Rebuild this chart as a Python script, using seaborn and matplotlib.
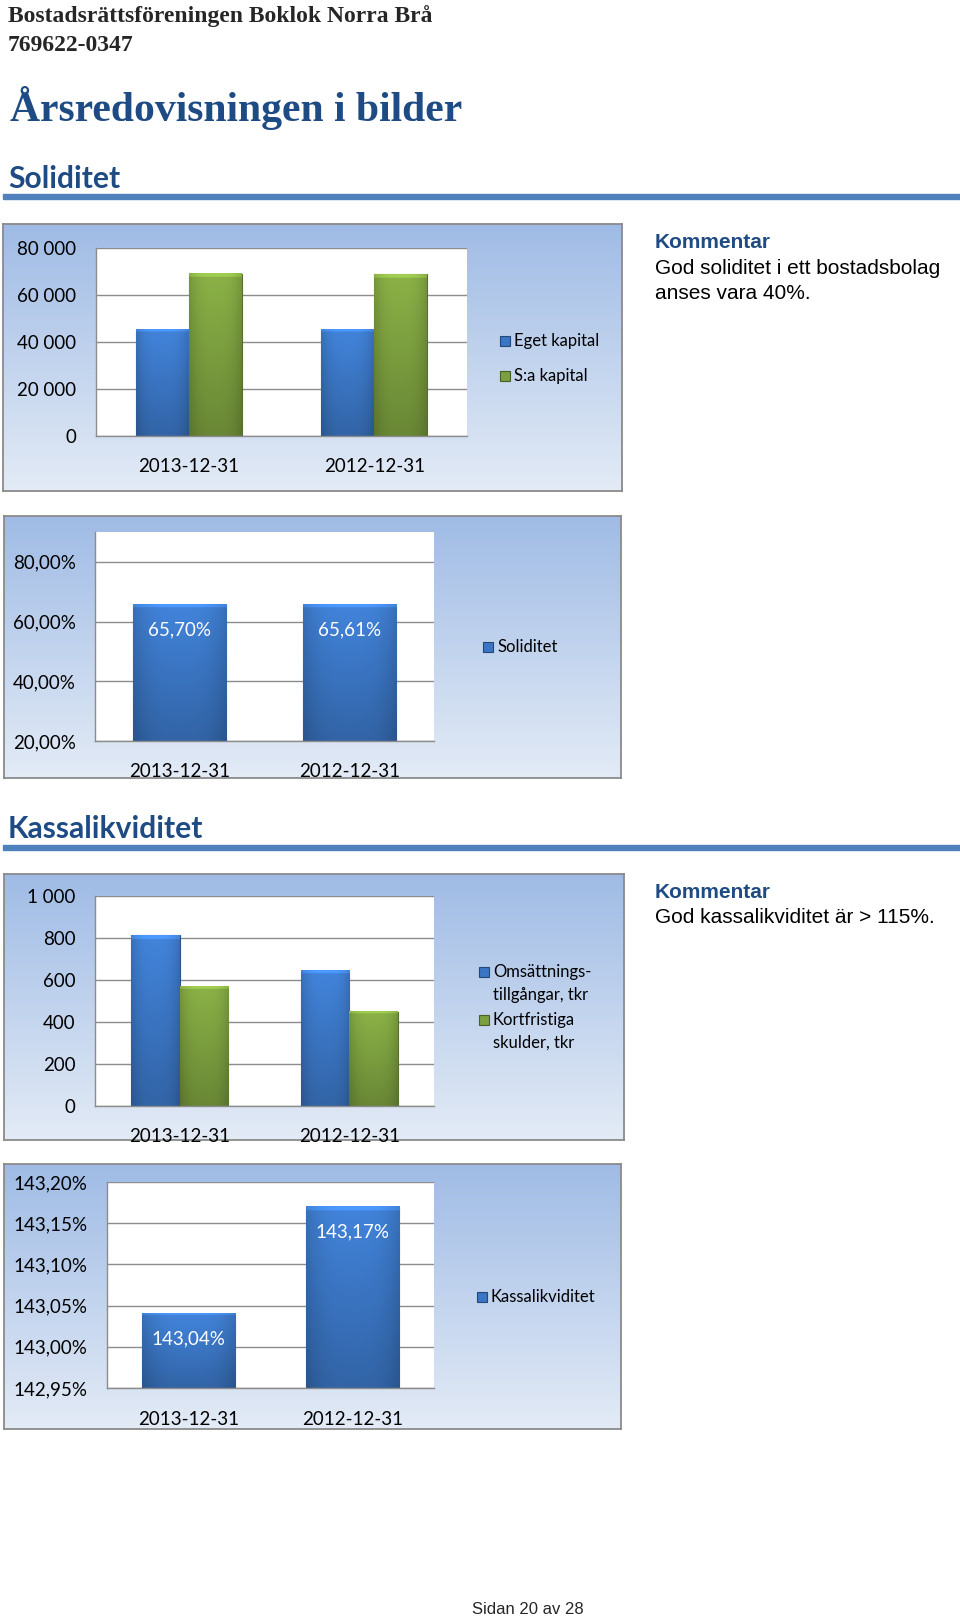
import numpy as np
import pandas as pd
import matplotlib
matplotlib.use("Agg")
import matplotlib.pyplot as plt
from matplotlib.colors import to_rgb
from matplotlib.patches import Rectangle
import seaborn as sns

sns.set_theme(style="white")
plt.rcParams['font.family'] = ['Lato', 'DejaVu Sans']

W, H = 960, 1619

# data
dates = ["2013-12-31", "2012-12-31"]
eget_kapital = [45300, 45150]
sa_kapital = [68950, 68820]
soliditet = [65.70, 65.61]
omsattning = [812, 644]
kortfristiga = [567, 450]
kassalikviditet = [143.04, 143.17]

BLUE = "#3b76c4"
GREEN = "#7c9f3f"
HEAD = "#1f4b84"
GRID = "#8c8c8c"

fig = plt.figure(figsize=(W / 100, H / 100), dpi=100)


def rect(x0, y0, x1, y1):
    return [x0 / W, 1 - y1 / H, (x1 - x0) / W, (y1 - y0) / H]


def fx(x):
    return x / W


def fy(y):
    return 1 - y / H


def panel(x0, y0, x1, y1):
    bg = fig.add_axes(rect(x0, y0, x1, y1), zorder=0)
    grad = np.linspace(0, 1, 256)[:, None, None]
    top = np.array(to_rgb("#9fbbe5"))
    bot = np.array(to_rgb("#e3ebf6"))
    bg.imshow(top + (bot - top) * grad, aspect='auto', extent=[0, 1, 0, 1])
    bg.set_xticks([])
    bg.set_yticks([])
    for s in bg.spines.values():
        s.set_color("#8a8a8a")
        s.set_linewidth(1.3)


def shade_bars(ax):
    xlim, ylim = ax.get_xlim(), ax.get_ylim()
    for patch in list(ax.patches):
        base = np.array(patch.get_facecolor()[:3])
        x, w = patch.get_x(), patch.get_width()
        top = patch.get_y() + patch.get_height()
        v = np.linspace(1.12, 0.85, 128)[:, None]
        v[:3] = 1.3  # light bevel on top edge
        h = 1 - 0.15 * np.abs(np.linspace(-1, 1, 40))[None, :] ** 3
        img = np.clip(base[None, None, :] * (v * h)[..., None], 0, 1)
        ax.imshow(img, extent=[x, x + w, ylim[0], top], aspect='auto',
                  zorder=patch.get_zorder() + 0.1, interpolation='bilinear')
        patch.set_edgecolor(base * 0.7)
        patch.set_linewidth(0.8)
    ax.set_xlim(xlim)
    ax.set_ylim(ylim)


def bar_chart(pos, series, colors, ylim, ticks, fmt, width, xpad, labels=None):
    ax = fig.add_axes(rect(*pos), zorder=2)
    df = pd.DataFrame({
        "datum": dates * len(series),
        "varde": [v for vals in series.values() for v in vals],
        "serie": [k for k, vals in series.items() for _ in vals],
    })
    sns.barplot(data=df, x="datum", y="varde", hue="serie", order=dates,
                palette=colors, width=width, saturation=1, legend=False,
                errorbar=None, ax=ax)
    ax.set_xlim(-0.5, 1.5)
    ax.set_ylim(*ylim)
    ax.set_yticks(ticks)
    ax.set_yticklabels([fmt(t) for t in ticks])
    ax.set_xlabel("")
    ax.set_ylabel("")
    ax.set_facecolor("white")
    ax.yaxis.grid(True, color=GRID, lw=1)
    ax.set_axisbelow(True)
    for s in ["top", "right"]:
        ax.spines[s].set_visible(False)
    for s in ["left", "bottom"]:
        ax.spines[s].set_color(GRID)
        ax.spines[s].set_linewidth(1)
    ax.tick_params(axis='y', length=0, pad=14, labelsize=13.5, labelcolor="black")
    ax.tick_params(axis='x', length=0, pad=xpad, labelsize=13.5, labelcolor="black")
    shade_bars(ax)
    if labels is not None:
        for i, v in enumerate(labels):
            ax.annotate(fmt(v), (i, v), xytext=(0, -18), textcoords='offset points',
                        ha='center', va='center', color='white', size=13.5, zorder=5)
    return ax


def legend_at(x, ys, entries, colors, size=12, line_step=22.5):
    for y, lines, col in zip(ys, entries, colors):
        c = np.array(to_rgb(col))
        fig.add_artist(Rectangle((fx(x), fy(y + 5)), 10 / W, 10 / H, transform=fig.transFigure,
                                 facecolor=c, edgecolor=c * 0.6, lw=0.8, zorder=5))
        for j, line in enumerate(lines):
            fig.text(fx(x + 14), fy(y + j * line_step), line, size=size, va='center',
                     ha='left', color='black', zorder=5)


def space_fmt(v):
    return f"{int(v):,}".replace(",", " ")


def pct_fmt(v):
    return f"{v:.2f}".replace(".", ",") + "%"


# page header
fig.text(fx(8), fy(22), "Bostadsrättsföreningen Boklok Norra Brå", family=['Liberation Serif'],
         weight='bold', size=17, va='baseline')
fig.text(fx(8), fy(51), "769622-0347", family=['Liberation Serif'], weight='bold', size=17,
         va='baseline')
fig.text(fx(10), fy(121), "Årsredovisningen i bilder", family=['Liberation Serif'], weight='bold',
         size=30, va='baseline', color=HEAD)
fig.text(fx(8), fy(188), "Soliditet", weight='bold', size=21.6, va='baseline', color=HEAD)
fig.add_artist(Rectangle((fx(3), fy(199.5)), (W - 3) / W, 5 / H, transform=fig.transFigure,
                         color="#4f81bd", zorder=1))
fig.text(fx(8), fy(838), "Kassalikviditet", weight='bold', size=21.6, va='baseline', color=HEAD)
fig.add_artist(Rectangle((fx(3), fy(850)), (W - 3) / W, 5 / H, transform=fig.transFigure,
                         color="#4f81bd", zorder=1))

# comments
for y0, body in [(248, ["God soliditet i ett bostadsbolag", "anses vara 40%."]),
                 (897.5, ["God kassalikviditet är > 115%."])]:
    fig.text(fx(655), fy(y0), "Kommentar", family=['Liberation Sans'], weight='bold', size=15,
             va='baseline', color=HEAD)
    for j, line in enumerate(body):
        fig.text(fx(655), fy(y0 + 25.7 * (j + 1)), line, family=['Liberation Sans'], size=15,
                 va='baseline', color='black')

fig.text(fx(528), fy(1609), "Sidan 20 av 28", family=['Liberation Sans'], size=12, ha='center',
         va='center')

# chart 1: eget kapital / summa kapital
panel(3, 224, 622, 491)
bar_chart((96, 248, 467, 436), {"Eget kapital": eget_kapital, "S:a kapital": sa_kapital},
          [BLUE, GREEN], (0, 80000), [0, 20000, 40000, 60000, 80000], space_fmt, 0.57, 16)
legend_at(500, [341, 376], [["Eget kapital"], ["S:a kapital"]], [BLUE, GREEN])

# chart 2: soliditet
panel(4, 516, 621, 778)
bar_chart((95, 532, 434, 741), {"Soliditet": soliditet}, [BLUE], (20, 90),
          [20, 40, 60, 80], pct_fmt, 0.55, 16, labels=soliditet)
legend_at(483, [647], [["Soliditet"]], [BLUE])

# chart 3: omsättningstillgångar / kortfristiga skulder
panel(4, 874, 624, 1140)
bar_chart((95, 896, 434, 1106), {"Omsättningstillgångar": omsattning, "Kortfristiga skulder": kortfristiga},
          [BLUE, GREEN], (0, 1000), [0, 200, 400, 600, 800, 1000], space_fmt, 0.57, 15.5)
legend_at(479, [972, 1020], [["Omsättnings-", "tillgångar, tkr"], ["Kortfristiga", "skulder, tkr"]],
          [BLUE, GREEN])

# chart 4: kassalikviditet
panel(4, 1164, 621, 1429)
bar_chart((107, 1182, 434, 1388), {"Kassalikviditet": kassalikviditet}, [BLUE], (142.95, 143.20),
          [142.95, 143.00, 143.05, 143.10, 143.15, 143.20], pct_fmt, 0.57, 16.3, labels=kassalikviditet)
legend_at(477, [1297], [["Kassalikviditet"]], [BLUE])

fig.savefig("out.png", dpi=100)
